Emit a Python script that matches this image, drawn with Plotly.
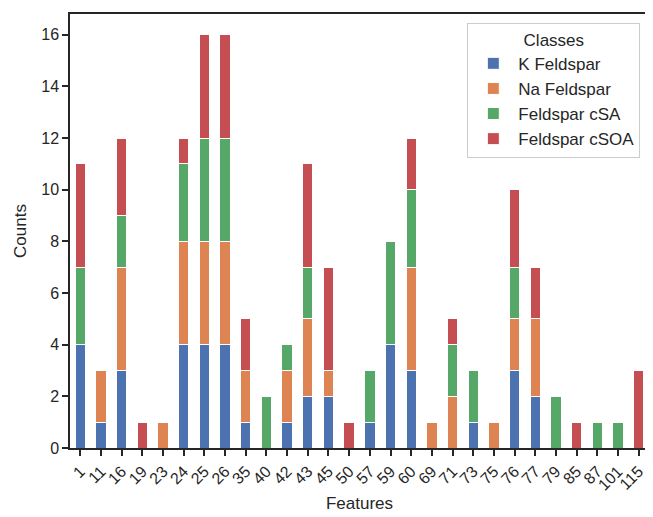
import plotly.graph_objects as go

features = ["1", "11", "16", "19", "23", "24", "25", "26", "35", "40", "42", "43", "45", "50",
            "57", "59", "60", "69", "71", "73", "75", "76", "77", "79", "85", "87", "101", "115"]
k_feldspar   = [4, 1, 3, 0, 0, 4, 4, 4, 1, 0, 1, 2, 2, 0, 1, 4, 3, 0, 0, 1, 0, 3, 2, 0, 0, 0, 0, 0]
na_feldspar  = [0, 2, 4, 0, 1, 4, 4, 4, 2, 0, 2, 3, 1, 0, 0, 0, 4, 1, 2, 0, 1, 2, 3, 0, 0, 0, 0, 0]
feldspar_csa = [3, 0, 2, 0, 0, 3, 4, 4, 0, 2, 1, 2, 0, 0, 2, 4, 3, 0, 2, 2, 0, 2, 0, 2, 0, 1, 1, 0]
feldspar_csoa= [4, 0, 3, 1, 0, 1, 4, 4, 2, 0, 0, 4, 4, 1, 0, 0, 2, 0, 1, 0, 0, 3, 2, 0, 1, 0, 0, 3]

series = [
    ("K Feldspar", k_feldspar, "#4C72B0"),
    ("Na Feldspar", na_feldspar, "#DD8452"),
    ("Feldspar cSA", feldspar_csa, "#55A868"),
    ("Feldspar cSOA", feldspar_csoa, "#C44E52"),
]

fig = go.Figure()
for name, vals, color in series:
    fig.add_trace(go.Bar(
        x=features, y=vals, name=name,
        marker=dict(color=color, line=dict(color="white", width=1)),
        width=0.5,
    ))

font = "Liberation Sans, Arial, sans-serif"
axis_common = dict(
    showline=True, linecolor="#262626", linewidth=1.5, mirror=True,
    ticks="outside", ticklen=6, tickwidth=1.5, tickcolor="#262626",
    showgrid=False, zeroline=False,
    tickfont=dict(family=font, size=16, color="#262626"),
)

fig.update_layout(
    barmode="stack",
    width=645, height=509,
    margin=dict(l=62, r=2, t=6, b=69),
    paper_bgcolor="white", plot_bgcolor="white",
    font=dict(family=font, color="#262626"),
    bargap=0.5,
    legend=dict(
        title=dict(text="Classes", side="top center", font=dict(family=font, size=17)),
        font=dict(family=font, size=17),
        x=0.985, y=0.98, xanchor="right", yanchor="top",
        bordercolor="#cccccc", borderwidth=1, bgcolor="rgba(255,255,255,0.8)",
        traceorder="normal", itemwidth=40,
    ),
    xaxis=dict(
        **axis_common, type="category", tickangle=-45, range=[-0.5, 27.5],
        title=dict(text="Features", font=dict(family=font, size=17), standoff=4),
    ),
    yaxis=dict(
        **axis_common, range=[0, 16.8], dtick=2,
        title=dict(text="Counts", font=dict(family=font, size=17), standoff=10),
    ),
)

fig.write_html("out.html")
